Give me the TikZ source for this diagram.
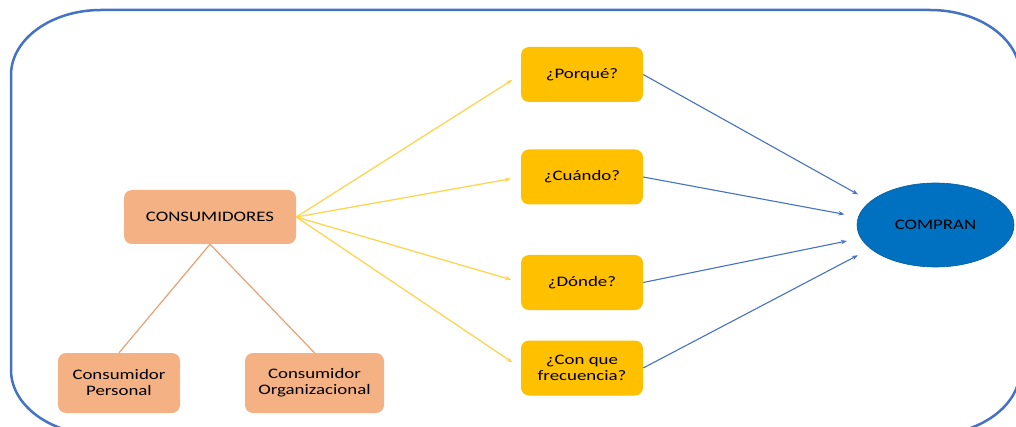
\documentclass[tikz,border=0pt]{standalone}
\usepackage{fontspec}
\setmainfont[FakeStretch=1.3]{Carlito}
\usetikzlibrary{shapes.geometric,arrows.meta}
\definecolor{naranja}{HTML}{F4B183}
\definecolor{lineanaranja}{RGB}{233,160,115}
\definecolor{amarillo}{HTML}{FFC000}
\definecolor{flechaamarilla}{HTML}{FFD450}
\definecolor{azulmarco}{HTML}{4472C4}
\definecolor{azulcompra}{HTML}{0070C0}

\begin{document}
\begin{tikzpicture}[x=1pt,y=-1pt,
  caja/.style={fill=naranja, rounded corners=8pt, align=center, inner sep=0pt,
    font=\fontsize{14.5}{16}\selectfont},
  pregunta/.style={caja, fill=amarillo, minimum width=122pt, minimum height=55pt},
  haciaq/.style={draw=flechaamarilla, line width=1.3pt, shorten >=10pt,
    -{Stealth[length=6pt,width=4.5pt]}},
  haciac/.style={draw=azulmarco, line width=1.1pt, shorten >=14pt,
    -{Stealth[length=6pt,width=4.5pt]}}]
\useasboundingbox (0,0) rectangle (1016,427);

% marco
\draw[azulmarco, line width=2.5pt] (11,75) arc[start angle=180, end angle=270, x radius=90, y radius=65]
  -- (930,10) arc[start angle=270, end angle=360, x radius=90, y radius=65]
  -- (1020,370) arc[start angle=0, end angle=90, x radius=90, y radius=65]
  -- (101,435) arc[start angle=90, end angle=180, x radius=90, y radius=65] -- cycle;

% consumidores
\node[caja, minimum width=172pt, minimum height=54pt] (cons) at (210,217) {CONSUMIDORES};
\node[caja, minimum width=122pt, minimum height=60pt] (personal) at (119,383) {Consumidor\\Personal};
\node[caja, minimum width=139pt, minimum height=60pt] (organiz) at (314.5,383) {Consumidor\\Organizacional};
\draw[lineanaranja, line width=1.2pt] (personal.north) -- (cons.south) -- (organiz.north);

% preguntas
\foreach \n/\y/\t in {porque/74.5/{¿Porqué?}, cuando/177/{¿Cuándo?}, donde/282.5/{¿Dónde?}, frec/368/{¿Con que\\frecuencia?}}
  \node[pregunta] (\n) at (582,\y) {\t};

\node[ellipse, fill=azulcompra, draw=azulcompra!85!black, line width=0.6pt,
  minimum width=157pt, minimum height=84pt, font=\fontsize{14.5}{16}\selectfont] (compran) at (935.5,225) {COMPRAN};

\foreach \n in {porque, cuando, donde, frec}
  \draw[haciaq] (cons.east) -- (\n.west);

\foreach \n/\a in {porque/160, cuando/174, donde/190, frec/200}
  \draw[haciac] (\n.east) -- (compran.\a);
\end{tikzpicture}
\end{document}
